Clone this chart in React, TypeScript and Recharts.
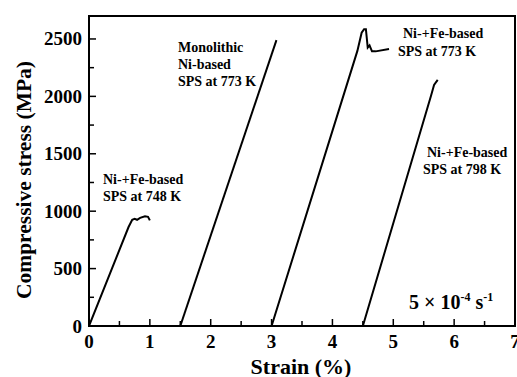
import React from 'react'
import { LineChart, Line, XAxis, YAxis, ReferenceArea } from 'recharts'

// Ni-+Fe-based, SPS at 748 K
const strain748 = [0, 0.65, 0.71, 0.75, 0.79, 0.84, 0.92, 0.97, 1.0]
const stress748 = [0, 862, 925, 933, 925, 942, 955, 951, 920]

// Monolithic Ni-based, SPS at 773 K
const strainMono = [1.5, 3.08]
const stressMono = [0, 2490]

// Ni-+Fe-based, SPS at 773 K
const strain773 = [3.0, 4.41, 4.48, 4.52, 4.55, 4.58, 4.61, 4.65, 4.71, 4.93]
const stress773 = [0, 2396, 2555, 2585, 2585, 2425, 2444, 2392, 2392, 2413]

// Ni-+Fe-based, SPS at 798 K
const strain798 = [4.5, 5.62, 5.67, 5.73]
const stress798 = [0, 2005, 2100, 2143]

const xTicks = [0, 0.5, 1, 1.5, 2, 2.5, 3, 3.5, 4, 4.5, 5, 5.5, 6, 6.5, 7]
const yTicks = [0, 250, 500, 750, 1000, 1250, 1500, 1750, 2000, 2250, 2500]

const zip = (xs: number[], ys: number[]) => xs.map((x, i) => ({ x, y: ys[i] }))

const curves = [
  zip(strain748, stress748),
  zip(strainMono, stressMono),
  zip(strain773, stress773),
  zip(strain798, stress798)
]

const font = '"Liberation Serif", "Times New Roman", serif'

const XTick = (props: any) => {
  const { x, y, payload } = props
  const major = Number.isInteger(payload.value)
  return (
    <g>
      <line x1={x} y1={y} x2={x} y2={y - (major ? 7 : 5)} stroke="#000" strokeWidth={1.5} />
      {major && (
        <text x={x} y={y + 22} textAnchor="middle" fontFamily={font} fontWeight="bold" fontSize={19} fill="#000">
          {payload.value}
        </text>
      )}
    </g>
  )
}

const YTick = (props: any) => {
  const { x, y, payload } = props
  const major = payload.value % 500 === 0
  return (
    <g>
      <line x1={x} y1={y} x2={x + (major ? 7 : 5)} y2={y} stroke="#000" strokeWidth={1.5} />
      {major && (
        <text x={x - 7} y={y + 6.5} textAnchor="end" fontFamily={font} fontWeight="bold" fontSize={19} fill="#000">
          {payload.value}
        </text>
      )}
    </g>
  )
}

const note: React.CSSProperties = {
  position: 'absolute',
  fontFamily: font,
  fontWeight: 'bold',
  fontSize: 14,
  lineHeight: '17px',
  whiteSpace: 'nowrap',
  color: '#000'
}

export default function App() {
  return (
    <div style={{ position: 'absolute', left: 0, top: 0, width: 517, height: 377, background: '#fff' }}>
      <LineChart width={517} height={377} margin={{ top: 16, right: 2, left: 0, bottom: 0 }}>
        <XAxis
          type="number"
          dataKey="x"
          domain={[0, 7]}
          ticks={xTicks}
          interval={0}
          height={51}
          tickSize={0}
          tickMargin={0}
          tickLine={false}
          tick={<XTick />}
          axisLine={{ stroke: '#000', strokeWidth: 2 }}
          allowDataOverflow
        />
        <YAxis
          type="number"
          dataKey="y"
          domain={[0, 2700]}
          ticks={yTicks}
          interval={0}
          width={89}
          tickSize={0}
          tickMargin={0}
          tickLine={false}
          tick={<YTick />}
          axisLine={{ stroke: '#000', strokeWidth: 2 }}
          allowDataOverflow
        />
        <ReferenceArea x1={0} x2={7} y1={0} y2={2700} fill="none" stroke="#000" strokeWidth={2} ifOverflow="visible" />
        {curves.map((d, i) => (
          <Line
            key={i}
            data={d}
            dataKey="y"
            type="linear"
            stroke="#000"
            strokeWidth={2}
            dot={false}
            isAnimationActive={false}
          />
        ))}
      </LineChart>

      <div
        style={{
          position: 'absolute',
          left: 24,
          top: 180,
          transform: 'translate(-50%, -50%) rotate(-90deg)',
          fontFamily: font,
          fontWeight: 'bold',
          fontSize: 21.5,
          whiteSpace: 'nowrap'
        }}
      >
        Compressive stress (MPa)
      </div>
      <div
        style={{
          position: 'absolute',
          left: 301,
          top: 367,
          transform: 'translate(-50%, -50%)',
          fontFamily: font,
          fontWeight: 'bold',
          fontSize: 22,
          whiteSpace: 'nowrap'
        }}
      >
        Strain (%)
      </div>

      <div style={{ ...note, left: 178, top: 39 }}>
        Monolithic<br />Ni-based<br />SPS at 773 K
      </div>
      <div style={{ ...note, left: 103, top: 171 }}>
        Ni-+Fe-based<br />SPS at 748 K
      </div>
      <div style={{ ...note, left: 403, top: 25 }}>Ni-+Fe-based</div>
      <div style={{ ...note, left: 398, top: 43 }}>SPS at 773 K</div>
      <div style={{ ...note, left: 427, top: 144 }}>Ni-+Fe-based</div>
      <div style={{ ...note, left: 423, top: 161 }}>SPS at 798 K</div>
      <div style={{ ...note, left: 409, top: 285, fontSize: 20, lineHeight: '24px' }}>
        5 × 10<sup style={{ fontSize: 12 }}>-4</sup> s<sup style={{ fontSize: 12 }}>-1</sup>
      </div>
    </div>
  )
}
